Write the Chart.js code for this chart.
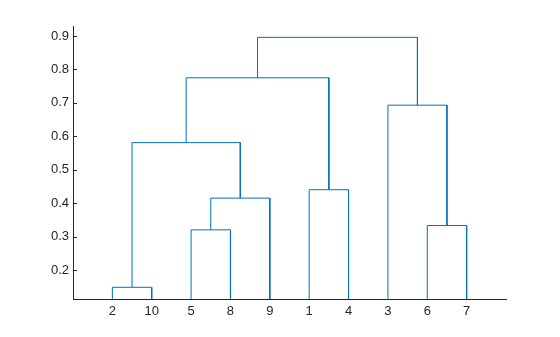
<!DOCTYPE html>
<html>
<head>
<meta charset="utf-8">
<script src="https://cdn.jsdelivr.net/npm/chart.js@4"></script>
<style>
  html, body { margin: 0; padding: 0; background: #fff; }
  #wrap { width: 560px; height: 337px; }
</style>
</head>
<body>
<div id="wrap"><canvas id="dendro"></canvas></div>
<script>
// linkage: cluster n+k joins mergeLeft[k] and mergeRight[k] at mergeHeight[k]
var leafCount = 10;
var mergeLeft   = [2,     5,     6,     12,    1,     11,    3,     16,    18];
var mergeRight  = [10,    8,     7,     9,     4,     14,    13,    15,    17];
var mergeHeight = [0.148, 0.320, 0.333, 0.415, 0.440, 0.581, 0.693, 0.775, 0.896];
var yTicks = [0.2, 0.3, 0.4, 0.5, 0.6, 0.7, 0.8, 0.9];

var lineColor = 'rgb(0,114,189)';
var axisColor = '#262626';

function leavesOf(id) {
  if (id <= leafCount) return [id];
  var k = id - leafCount - 1;
  return leavesOf(mergeLeft[k]).concat(leavesOf(mergeRight[k]));
}
var rootId = leafCount + mergeHeight.length;
var leafOrder = leavesOf(rootId);

var xPos = {}, yPos = {};
leafOrder.forEach(function(leaf, i) { xPos[leaf] = i + 1; yPos[leaf] = 0; });
var datasets = [];
for (var k = 0; k < mergeHeight.length; k++) {
  var a = mergeLeft[k], b = mergeRight[k], h = mergeHeight[k];
  datasets.push({
    data: [{x: xPos[a], y: yPos[a]}, {x: xPos[a], y: h}, {x: xPos[b], y: h}, {x: xPos[b], y: yPos[b]}],
    showLine: true,
    borderColor: lineColor,
    borderWidth: 1,
    pointRadius: 0,
    fill: false,
    clip: 0
  });
  xPos[leafCount + k + 1] = (xPos[a] + xPos[b]) / 2;
  yPos[leafCount + k + 1] = h;
}

// small inward tick marks on the y axis, like MATLAB
var innerTicks = {
  id: 'innerTicks',
  afterDraw: function(chart) {
    var c = chart.ctx, y = chart.scales.y, area = chart.chartArea;
    c.save();
    c.strokeStyle = axisColor;
    c.lineWidth = 1;
    yTicks.forEach(function(v) {
      var py = Math.round(y.getPixelForValue(v)) + 0.5;
      c.beginPath();
      c.moveTo(area.left, py);
      c.lineTo(area.left + 4, py);
      c.stroke();
    });
    c.restore();
  }
};

var tickFont = { family: 'Liberation Sans, Arial, sans-serif', size: 13 };

new Chart(document.getElementById('dendro'), {
  type: 'scatter',
  data: { datasets: datasets },
  plugins: [innerTicks],
  options: {
    responsive: true,
    maintainAspectRatio: false,
    animation: false,
    layout: { padding: { left: 0, top: 26, right: 54, bottom: 0 } },
    plugins: { legend: { display: false }, tooltip: { enabled: false } },
    scales: {
      x: {
        type: 'linear',
        min: 0,
        max: leafOrder.length + 1,
        afterBuildTicks: function(scale) {
          scale.ticks = leafOrder.map(function(l, i) { return { value: i + 1 }; });
        },
        afterFit: function(scale) { scale.height = 38; },
        ticks: {
          autoSkip: false,
          maxRotation: 0,
          padding: 5,
          color: axisColor,
          font: tickFont,
          callback: function(v) { return String(leafOrder[v - 1]); }
        },
        grid: { display: false, drawTicks: false },
        border: { display: true, color: axisColor, width: 1 }
      },
      y: {
        type: 'linear',
        min: 0.113,
        max: 0.93,
        afterBuildTicks: function(scale) {
          scale.ticks = yTicks.map(function(v) { return { value: v }; });
        },
        afterFit: function(scale) { scale.width = 73; },
        ticks: {
          padding: 4,
          color: axisColor,
          font: tickFont,
          callback: function(v) { return v.toFixed(1); }
        },
        grid: { display: false, drawTicks: false },
        border: { display: true, color: axisColor, width: 1 }
      }
    }
  }
});
</script>
</body>
</html>
